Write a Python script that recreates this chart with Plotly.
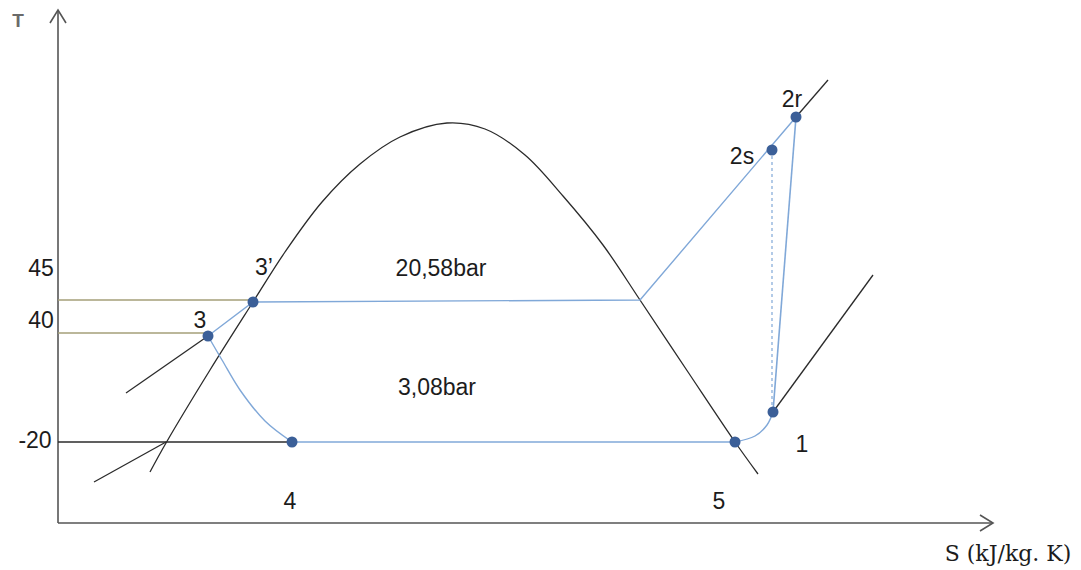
import plotly.graph_objects as go

# Schematic T-s diagram of a refrigeration cycle (sketch units: s to the right, T downwards on screen)
# Saturation dome
dome_s = [150, 166, 210, 253, 285, 322, 360, 400, 447, 485, 525, 563, 603, 640, 688, 735, 758]
dome_t = [472, 443, 370, 302, 252, 202, 164, 137, 123, 129, 155, 196, 245, 300, 372, 442, 474]

# Cycle states
state_names = ["1", "2s", "2r", "3", "3’", "4", "5"]
state_s = [773, 772, 796, 208, 253, 292, 735]
state_t = [412, 150, 117, 336, 302, 442, 442]

# Label positions for states
label_s = [802, 742, 792, 200, 264, 290, 719]
label_t = [446, 158, 101, 322, 269, 503, 503]

# Temperature tick labels and levels
tick_labels = ["45", "40", "-20"]
tick_label_t = [270, 322, 442]
level_t = [300, 333, 442]

pressure_labels = ["20,58bar", "3,08bar"]
pressure_s = [441, 437]
pressure_t = [270, 389]

# Throttling curve 3 -> 4 and superheat curve 5 -> 1
throttle_s = [208, 222, 240, 265, 292]
throttle_t = [336, 360, 390, 421, 442]
superheat_s = [735, 755, 767, 773]
superheat_t = [442, 436, 425, 412]

# Auxiliary isobar segments (black)
iso_high_s = [640, 796, 828]
iso_high_t = [300, 117, 80]
iso_low_s = [773, 873]
iso_low_t = [412, 275]
liq_s = [208, 126]
liq_t = [336, 393]
liq_low_s = [166, 94]
liq_low_t = [442, 482]

BLACK = "#2b2b2b"
BLUE = "#80a8d8"
MARK = "#3b5f98"
OLIVE = "#a49f78"
TXT = "#1c1c1c"

fig = go.Figure()

def line(xs, ys, color, width=1.3, dash=None, shape="linear"):
    fig.add_trace(go.Scatter(x=xs, y=ys, mode="lines",
                             line=dict(color=color, width=width, dash=dash, shape=shape),
                             hoverinfo="skip", showlegend=False))

# Axes with open arrowheads
line([58, 58], [523, 10], "#555555", 1.6)
line([50, 58, 66], [23, 10, 23], "#555555", 1.6)
line([58, 993], [523, 523], "#555555", 1.6)
line([980, 993, 980], [515, 523, 531], "#555555", 1.6)

# Dome
line(dome_s, dome_t, BLACK, 1.3, shape="spline")

# Temperature level lines
line([58, state_s[4]], [level_t[0]] * 2, OLIVE, 1.4)
line([58, state_s[3]], [level_t[1]] * 2, OLIVE, 1.4)
line([58, state_s[5]], [level_t[2]] * 2, BLACK, 1.3)

# Auxiliary black lines
line(iso_high_s[1:], iso_high_t[1:], BLACK, 1.3)
line(iso_low_s, iso_low_t, BLACK, 1.3)
line(liq_s, liq_t, BLACK, 1.3)
line(liq_low_s, liq_low_t, BLACK, 1.3)

# Cycle lines (blue)
line([state_s[3], state_s[4], iso_high_s[0], state_s[2]],
     [state_t[3], state_t[4], iso_high_t[0], state_t[2]], BLUE, 1.4)
line([state_s[2], state_s[0]], [state_t[2], state_t[0]], BLUE, 1.6)
line([state_s[1], state_s[1]], [state_t[1], state_t[0]], BLUE, 1.2, dash="dot")
line(throttle_s, throttle_t, BLUE, 1.4, shape="spline")
line([state_s[5], state_s[6]], [state_t[5], state_t[6]], BLUE, 1.4)
line(superheat_s, superheat_t, BLUE, 1.4, shape="spline")

# State markers
fig.add_trace(go.Scatter(x=state_s, y=state_t, mode="markers",
                         marker=dict(color=MARK, size=11, line=dict(width=0)),
                         hoverinfo="skip", showlegend=False))

font = dict(family="Liberation Sans, Arial, sans-serif", size=23, color=TXT)

fig.add_trace(go.Scatter(x=label_s, y=label_t, mode="text", text=state_names,
                         textfont=font, hoverinfo="skip", showlegend=False))
fig.add_trace(go.Scatter(x=[41, 41, 35], y=tick_label_t, mode="text", text=tick_labels,
                         textfont=font, hoverinfo="skip", showlegend=False))
fig.add_trace(go.Scatter(x=pressure_s, y=pressure_t, mode="text", text=pressure_labels,
                         textfont=font, hoverinfo="skip", showlegend=False))
fig.add_trace(go.Scatter(x=[18], y=[22], mode="text", text=["<b>T</b>"],
                         textfont=dict(family="Liberation Sans, Arial, sans-serif", size=19,
                                       color="#6a6a6a"),
                         hoverinfo="skip", showlegend=False))
fig.add_trace(go.Scatter(x=[1008], y=[555], mode="text", text=["S (kJ/kg. K)"],
                         textfont=dict(family="DejaVu Serif, Liberation Serif, serif", size=22,
                                       color=TXT),
                         hoverinfo="skip", showlegend=False))

fig.update_layout(
    width=1081, height=570,
    margin=dict(l=0, r=0, t=0, b=0),
    paper_bgcolor="white", plot_bgcolor="white",
    xaxis=dict(range=[0, 1081], visible=False, fixedrange=True),
    yaxis=dict(range=[570, 0], visible=False, fixedrange=True),
)

fig.write_html("out.html")
